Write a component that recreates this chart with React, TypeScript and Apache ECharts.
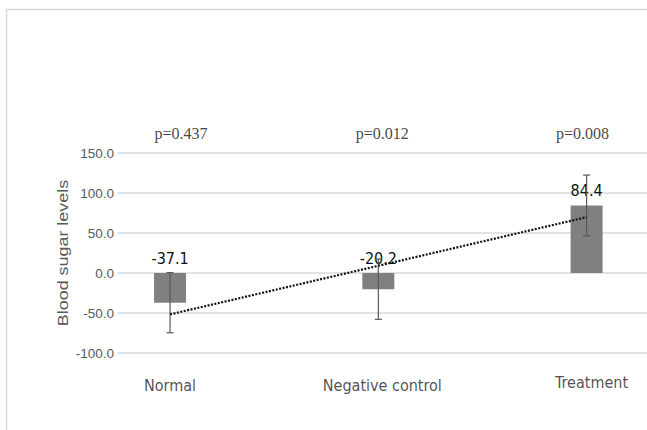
import React, { useEffect, useRef } from "react";
import * as echarts from "echarts";

const categories = ["Normal", "Negative control", "Treatment"];
const meanValues = [-37.1, -20.2, 84.4];
const errorValues = [37.6, 37.7, 38.0];
const trendValues = [-51.7, 9.0, 69.8];
const pValues = ["p=0.437", "p=0.012", "p=0.008"];
const yTicks = { min: -100, max: 150, interval: 50 };
const pOffsets = [11, 4, -4];
const catOffsets = [0, 4, 5];

export default function App() {
  const ref = useRef<HTMLDivElement>(null);
  useEffect(() => {
    if (!ref.current) return;
    const chart = echarts.init(ref.current, null, { renderer: "svg" });
    const narrow = "DejaVu Sans Condensed, Liberation Sans Narrow, Arial Narrow, sans-serif";
    const errData = categories.map((c, i) => [i, meanValues[i] - errorValues[i], meanValues[i] + errorValues[i]]);
    chart.setOption({
      animation: false,
      backgroundColor: "#ffffff",
      grid: { left: 118, right: 0, top: 153, height: 200 },
      xAxis: { type: "value", min: -0.25, max: 2.29, show: false },
      yAxis: {
        type: "value",
        min: yTicks.min,
        max: yTicks.max,
        interval: yTicks.interval,
        axisLine: { show: false },
        axisTick: { show: false },
        axisLabel: {
          margin: 4,
          color: "#595959",
          fontSize: 13.5,
          fontFamily: "Liberation Sans, Arial",
          formatter: (v: number) => v.toFixed(1),
        },
        splitLine: { lineStyle: { color: "#d9d9d9", width: 1.5 } },
      },
      graphic: [
        {
          type: "rect",
          shape: { x: 6.5, y: 9.5, width: 700, height: 500 },
          style: { fill: "none", stroke: "#d9d9d9", lineWidth: 1.5 },
          silent: true,
        },
        {
          type: "text",
          x: 63,
          y: 253,
          rotation: Math.PI / 2,
          scaleX: 1.28,
          style: {
            text: "Blood sugar levels",
            fill: "#595959",
            fontSize: 14,
            fontFamily: "Liberation Sans, Arial",
            align: "center",
            verticalAlign: "middle",
          },
          silent: true,
        },
      ],
      series: [
        {
          type: "bar",
          data: meanValues.map((v, i) => [i, v]),
          barWidth: 32,
          itemStyle: { color: "#808080" },
          label: {
            show: true,
            position: "top",
            distance: 7,
            color: "#111111",
            fontSize: 16,
            fontFamily: narrow,
            formatter: (p: any) => Number(p.value[1]).toFixed(1),
          },
          z: 2,
        },
        {
          type: "custom",
          data: errData,
          z: 4,
          renderItem: (params: any, api: any) => {
            const low = api.coord([api.value(0), api.value(1)]);
            const high = api.coord([api.value(0), api.value(2)]);
            const x = low[0];
            const half = 3.5;
            const style = { stroke: "#595959", lineWidth: 1.2 };
            return {
              type: "group",
              children: [
                { type: "line", shape: { x1: x, y1: low[1], x2: x, y2: high[1] }, style },
                { type: "line", shape: { x1: x - half, y1: low[1], x2: x + half, y2: low[1] }, style },
                { type: "line", shape: { x1: x - half, y1: high[1], x2: x + half, y2: high[1] }, style },
              ],
            };
          },
        },
        {
          type: "line",
          data: trendValues.map((v, i) => [i, v]),
          symbol: "none",
          lineStyle: { color: "#111111", width: 2.2, type: [2, 1.5] },
          z: 5,
        },
        {
          type: "scatter",
          data: categories.map((c, i) => ({
            value: [i, yTicks.min],
            label: { offset: [catOffsets[i], i === 2 ? -3 : 0] },
          })),
          symbolSize: 0,
          silent: true,
          label: {
            show: true,
            position: "bottom",
            distance: 24,
            color: "#1f1f1f",
            fontSize: 16,
            fontFamily: narrow,
            formatter: (p: any) => categories[p.dataIndex],
          },
        },
        {
          type: "scatter",
          data: pValues.map((p, i) => ({
            value: [i, yTicks.max],
            label: { offset: [pOffsets[i], 0] },
          })),
          symbolSize: 0,
          silent: true,
          label: {
            show: true,
            position: "top",
            distance: 12,
            color: "#111111",
            fontSize: 16,
            fontFamily: "Liberation Serif, Times New Roman, serif",
            formatter: (p: any) => pValues[p.dataIndex],
          },
        },
      ],
    });
    return () => chart.dispose();
  }, []);
  return <div ref={ref} style={{ position: "fixed", left: 0, top: 0, width: 647, height: 430 }} />;
}
